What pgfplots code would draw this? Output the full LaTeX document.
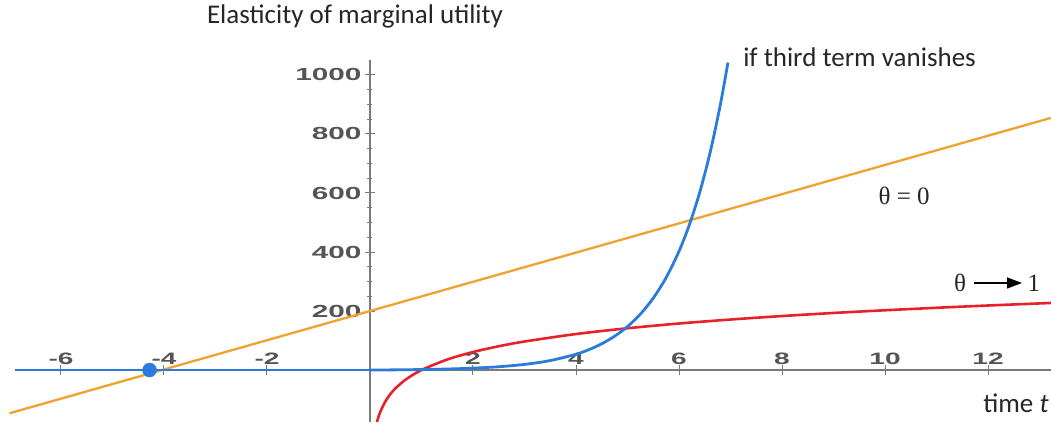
\documentclass[border=0pt]{standalone}
\usepackage{pgfplots}
\pgfplotsset{compat=1.18}
\usepackage{graphicx}
\usepackage{fontspec}
\setmainfont{Carlito}
\newfontfamily\tickfont{Liberation Sans}
\newfontfamily\seriffont{Liberation Serif}
\usetikzlibrary{arrows.meta}
\definecolor{cblue}{HTML}{2B7BDB}
\definecolor{cred}{HTML}{E8202A}
\definecolor{corange}{HTML}{F0A22E}
\definecolor{axgray}{HTML}{7A7A7A}
\definecolor{labgray}{HTML}{555555}
\newcommand\sx[1]{\scalebox{1.7}[1]{#1}}
\begin{document}
\begin{tikzpicture}
\begin{axis}[
  scale only axis, width=1036pt, height=361.7pt,
  xmin=-6.9, xmax=13.22, ymin=-176, ymax=1050,
  axis lines=middle,
  axis line style={draw=axgray, line width=1.5pt, -},
  xtick={-6,-4,-2,2,4,6,8,10,12},
  xticklabels={\sx{-6},\sx{-4},\sx{-2},\sx{2},\sx{4},\sx{6},\sx{8},\sx{10},\sx{12}},
  ytick={200,400,600,800,1000},
  yticklabels={\sx{200},\sx{400},\sx{600},\sx{800},\sx{1000}},
  minor x tick num=3, minor y tick num=3,
  major tick length=10pt, minor tick length=5pt,
  tick style={axgray, line width=1pt},
  xticklabel style={font=\tickfont\bfseries\fontsize{16.5}{16.5}\selectfont, text=labgray, anchor=south, yshift=7pt},
  yticklabel style={font=\tickfont\bfseries\fontsize{17.5}{17.5}\selectfont, text=labgray, anchor=east, xshift=0pt},
  clip=false,
]
\addplot[corange, line width=2.3pt] coordinates {(-7.0,-146.5) (13.22,854.4)};
\addplot[cred, line width=2.6pt, smooth] coordinates {
(0.135,-176.1) (0.15,-167) (0.2,-141.6) (0.3,-106) (0.4,-80.6) (0.5,-61) (0.7,-31.4)
(1,0) (1.5,35.7) (2,61) (2.5,80.6) (3,96.7) (4,122) (5,141.6) (6,157.7) (7,171.2)
(8,183) (9,193.4) (10,202.6) (11,211) (12,218.7) (13.22,227.3)};
\addplot[cblue, line width=2.8pt] coordinates {(-6.9,0) (0,0)};
\addplot[cblue, line width=2.8pt, smooth] coordinates {
(0,0) (0.5,0.65) (1,1.72) (1.5,3.48) (2,6.39) (2.5,11.18) (3,19.09) (3.5,32.1)
(4,53.6) (4.25,69.1) (4.5,89.0) (4.75,114.6) (5,147.4) (5.25,189.6) (5.5,243.7)
(5.75,313.2) (6,402.4) (6.2,491.7) (6.4,600.8) (6.6,734.1) (6.8,896.8) (6.95,1042)};
\addplot[only marks, mark=*, mark size=7pt, cblue] coordinates {(-4.28,0)};
\node[font=\fontsize{27}{27}\selectfont, text=black!85] at (axis cs:-0.29,1197) {Elasticity of marginal utility};
\node[font=\fontsize{27}{27}\selectfont, text=black!85, anchor=west] at (axis cs:7.18,1061) {if third term vanishes};
\node[font=\seriffont\fontsize{25}{25}\selectfont, text=black!85] at (axis cs:10.37,590) {θ = 0};
\node[font=\seriffont\fontsize{25}{25}\selectfont, text=black!85] at (axis cs:11.46,295) {θ};
\draw[black, line width=1.4pt, -{Triangle[length=15pt,width=11pt]}] (axis cs:11.72,295) -- (axis cs:12.66,295);
\node[font=\seriffont\fontsize{25}{25}\selectfont, text=black!85] at (axis cs:12.89,295) {1};
\node[font=\fontsize{27}{27}\selectfont, text=black!85, anchor=east, inner xsep=1pt] at (axis cs:13.2,-112) {time \textit{t}};
\coordinate (bl) at (axis cs:-7.184,-183);
\coordinate (tr) at (axis cs:13.223,1254);
\end{axis}
\pgfresetboundingbox
\useasboundingbox (bl) rectangle (tr);
\end{tikzpicture}
\end{document}
